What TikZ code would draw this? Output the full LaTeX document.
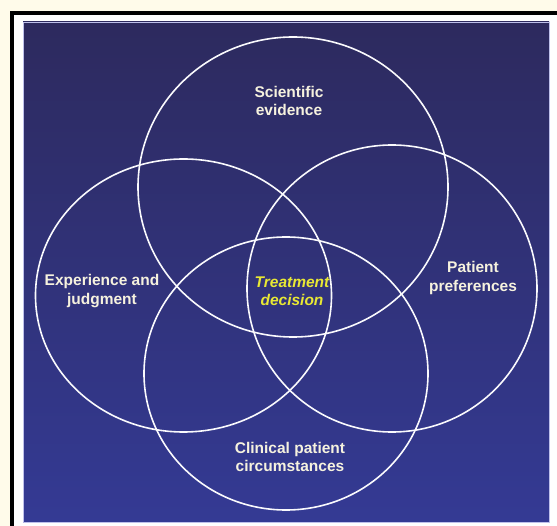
\documentclass[tikz,border=0pt]{standalone}
\usepackage{fontspec}
\setmainfont{Liberation Sans}
\definecolor{creambg}{RGB}{255,251,234}
\definecolor{bluetop}{RGB}{45,42,94}
\definecolor{bluemid}{RGB}{49,50,126}
\definecolor{bluebot}{RGB}{52,58,148}
\definecolor{edgeblue}{RGB}{190,192,235}
\definecolor{labelcream}{RGB}{246,242,222}
\definecolor{decyellow}{RGB}{232,232,52}
\begin{document}
\begin{tikzpicture}[x=1pt, y=-1pt, line join=round, line cap=round,
	venn/.style={draw=white!92!edgeblue, line width=1.6pt},
	lbl/.style={text=labelcream, font=\bfseries\fontsize{15.5}{18.5}\selectfont, align=center, inner sep=0pt}]
				\useasboundingbox (0,0) rectangle (557,526);
				% page, frame and panel
				\fill[creambg] (0,0) rectangle (557,526);
				\fill[black] (10,11) rectangle (557,526);
				\fill[white] (14,15) rectangle (557,526);
				\shade[top color=bluetop, middle color=bluemid, bottom color=bluebot, draw=edgeblue, line width=0.8pt] (23,22) rectangle (549,522);
				\path
				(293,187) coordinate (S)
				(183.5,295.5) coordinate (E)
				(392,288.5) coordinate (P)
				(286,373.5) coordinate (C)
				;
				\foreach \c/\rx/\ry in {S/155/150,E/148/136.5,P/145/143.5,C/142/136.5} \draw[venn] (\c) ellipse[x radius=\rx, y radius=\ry];
				\node[lbl] (sci) at (289,101) {Scientific\\evidence};
				\node[lbl] (exp) at (102,291) {Experience and\\judgment};
				\node[lbl] (pat) at (473,278) {Patient\\preferences};
				\node[lbl] (cli) at (290,457) {Clinical patient\\circumstances};
				\node[lbl, text=decyellow, font=\bfseries\itshape\fontsize{15.5}{18.5}\selectfont] (dec) at (292,291) {Treatment\\decision};
			\end{tikzpicture}
\end{document}
